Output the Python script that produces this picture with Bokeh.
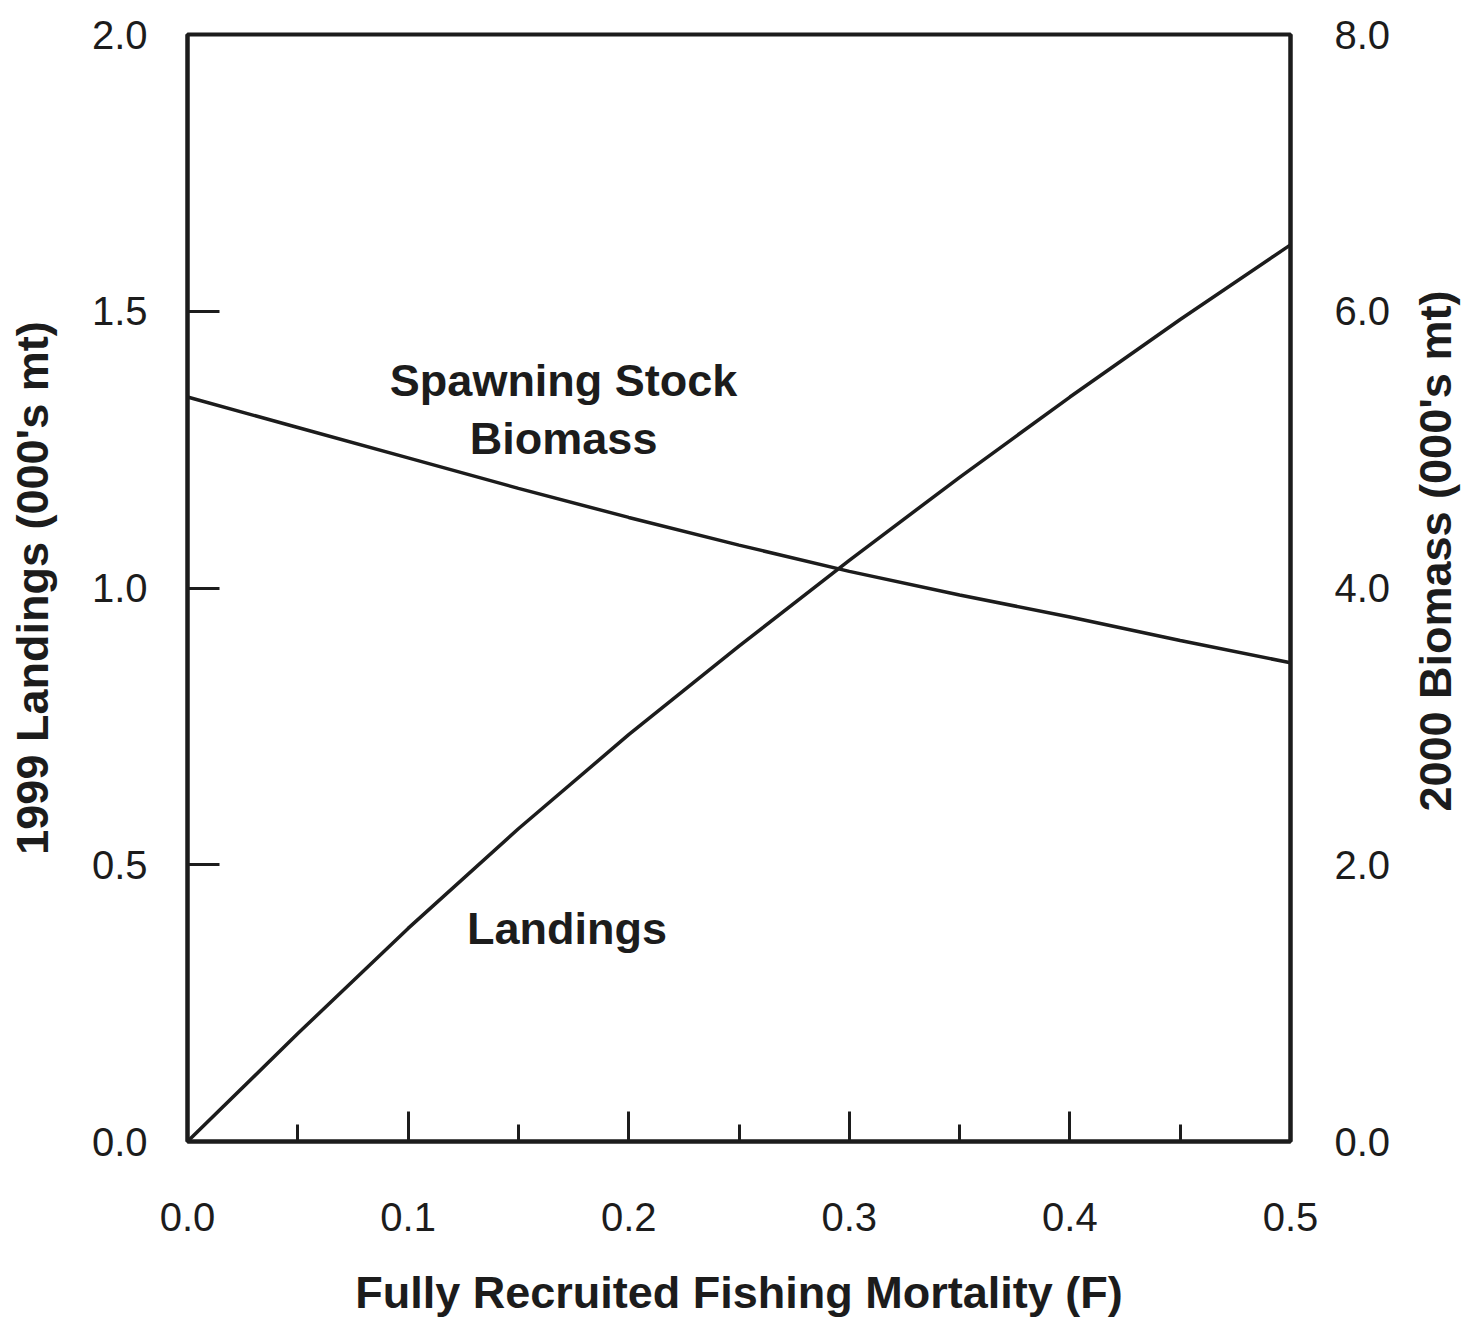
import math
from bokeh.plotting import figure
from bokeh.layouts import row
from bokeh.models import (Range1d, LinearAxis, FixedTicker, NumeralTickFormatter,
                          Label, ColumnDataSource)
from bokeh.embed import file_html
from bokeh.resources import INLINE

# ---- data ----
f_values = [0.0, 0.05, 0.10, 0.15, 0.20, 0.25, 0.30, 0.35, 0.40, 0.45, 0.50]
landings_1999 = [0.0, 0.195, 0.385, 0.565, 0.735, 0.895, 1.05, 1.20, 1.345, 1.485, 1.62]
biomass_2000 = [5.38, 5.16, 4.94, 4.72, 4.51, 4.31, 4.12, 3.95, 3.79, 3.62, 3.46]

x_ticks = [0.0, 0.1, 0.2, 0.3, 0.4, 0.5]
x_minor = [0.05, 0.15, 0.25, 0.35, 0.45]
left_ticks = [0.0, 0.5, 1.0, 1.5, 2.0]
right_ticks = [0.0, 2.0, 4.0, 6.0, 8.0]

FONT = "Liberation Sans"
INK = "#1c1c1c"
H = 1320

p = figure(width=1410, height=H, output_backend="svg", toolbar_location=None,
           x_range=Range1d(0, 0.5), y_range=Range1d(0, 2.0),
           min_border_left=187, min_border_right=120,
           min_border_top=34, min_border_bottom=170,
           x_axis_location=None, y_axis_location=None)
p.extra_y_ranges = {"bio": Range1d(0, 8.0)}
p.grid.visible = False
p.outline_line_color = INK
p.outline_line_width = 4
p.background_fill_color = "white"
p.border_fill_color = "white"

def style(ax):
    ax.axis_line_color = INK
    ax.axis_line_width = 4
    ax.major_tick_line_color = INK
    ax.major_tick_line_width = 3
    ax.minor_tick_line_color = INK
    ax.minor_tick_line_width = 3
    ax.major_label_text_font = FONT
    ax.major_label_text_font_size = "40px"
    ax.major_label_text_color = INK
    ax.axis_label_text_font = FONT
    ax.axis_label_text_font_size = "45px"
    ax.axis_label_text_font_style = "bold"
    ax.axis_label_text_color = INK
    ax.major_tick_out = 0
    ax.minor_tick_out = 0

xa = LinearAxis(axis_label="Fully Recruited Fishing Mortality (F)",
                ticker=FixedTicker(ticks=x_ticks, minor_ticks=x_minor),
                formatter=NumeralTickFormatter(format="0.0"))
style(xa)
xa.major_tick_in = 30
xa.minor_tick_in = 17
xa.major_label_standoff = 61
xa.axis_label_standoff = 33
p.add_layout(xa, "below")

ya = LinearAxis(axis_label="1999 Landings (000's mt)",
                ticker=FixedTicker(ticks=left_ticks, minor_ticks=[]),
                formatter=NumeralTickFormatter(format="0.0"))
style(ya)
ya.major_tick_in = 32
ya.minor_tick_in = 0
ya.major_label_standoff = 40
ya.axis_label_standoff = 31
p.add_layout(ya, "left")

ra = LinearAxis(y_range_name="bio",
                ticker=FixedTicker(ticks=right_ticks, minor_ticks=[]),
                formatter=NumeralTickFormatter(format="0.0"))
style(ra)
ra.major_tick_in = 0
ra.minor_tick_in = 0
ra.major_label_standoff = 44
p.add_layout(ra, "right")

src = ColumnDataSource(dict(f=f_values, land=landings_1999, bio=biomass_2000))
p.line("f", "land", source=src, line_color=INK, line_width=3.5)
p.line("f", "bio", source=src, y_range_name="bio", line_color=INK, line_width=3.5)

for txt, x, y in [("Spawning Stock", 0.1705, 1.375), ("Biomass", 0.1705, 1.271),
                  ("Landings", 0.172, 0.385)]:
    p.add_layout(Label(x=x, y=y, text=txt, text_align="center", text_baseline="middle",
                       text_font=FONT, text_font_size="45px", text_font_style="bold",
                       text_color=INK))

# narrow strip holding the right-hand axis title, reading bottom-to-top
side = figure(width=54, height=H, output_backend="svg", toolbar_location=None,
              x_range=Range1d(0, 54), y_range=Range1d(0, H),
              x_axis_location=None, y_axis_location=None,
              min_border=0)
side.grid.visible = False
side.outline_line_color = None
side.background_fill_color = "white"
side.border_fill_color = "white"
side.add_layout(Label(x=25, y=H - 616, text="2000 Biomass (000's mt)", angle=math.pi / 2,
                      text_align="center", text_baseline="middle",
                      text_font=FONT, text_font_size="45px", text_font_style="bold",
                      text_color=INK))

layout = row(p, side, spacing=0)
open("out.html", "w").write(file_html(layout, INLINE))
